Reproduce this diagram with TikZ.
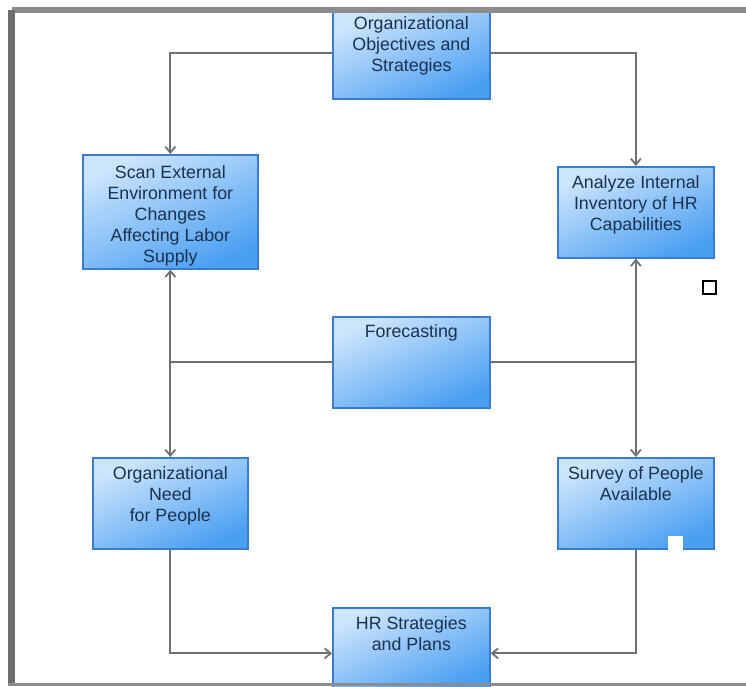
\documentclass[tikz,border=0pt]{standalone}
\usepackage{fontspec}
\setmainfont{Liberation Sans}
\usetikzlibrary{arrows.meta}
\definecolor{boxblue}{HTML}{3A7CD0}
\definecolor{boxlight}{HTML}{CDE5FC}
\definecolor{boxdark}{HTML}{4A9FF2}
\definecolor{txtcol}{HTML}{1B3150}
\definecolor{linegray}{HTML}{707070}
\definecolor{framegray}{HTML}{8C8C8C}
\definecolor{framedark}{HTML}{6E6E6E}
\newcommand{\btext}[4]{\parbox[c][#2pt][t]{#1pt}{\centering\rule{0pt}{#4pt}#3}}
\begin{document}
\begin{tikzpicture}[x=1pt,y=-1pt,
  hrbox/.style={draw=boxblue, line width=1.7pt, top color=boxlight, bottom color=boxdark,
    shading angle=25, inner sep=0pt, anchor=north west, text=txtcol,
    font=\fontsize{17.8}{21}\selectfont},
  conn/.style={draw=linegray, line width=1.8pt},
  arr/.style={conn, -{Straight Barb[length=6pt,width=10pt]}}]
\useasboundingbox (0,0) rectangle (746,686);
\fill[white] (0,0) rectangle (746,686);
% boxes
\node[hrbox] (obj)  at (332,11)  {\btext{157}{87}{Organizational\\Objectives and\\Strategies}{18}};
\node[hrbox] (scan) at (82,154)  {\btext{175}{114}{Scan External\\Environment for\\Changes\\Affecting Labor\\Supply}{24}};
\node[hrbox] (anal) at (557,166) {\btext{156}{91}{Analyze Internal\\Inventory of HR\\Capabilities}{22}};
\node[hrbox] (fore) at (332,316) {\btext{157}{91}{Forecasting}{21}};
\node[hrbox] (need) at (92,457)  {\btext{155}{91}{Organizational\\Need\\for People}{22}};
\node[hrbox] (surv) at (557,457) {\btext{156}{91}{Survey of People\\Available}{22}};
\node[hrbox] (hr)   at (332,607) {\btext{157}{80}{HR Strategies\\and Plans}{22}};
% notch in survey box
\fill[white] (668,536) rectangle (683,549.8);
% connectors
\draw[arr] ([yshift=2pt]obj.west) -| (scan.north);
\draw[arr] ([yshift=2pt]obj.east) -| (anal.north);
\coordinate (jl) at (scan.south |- fore.west);
\coordinate (jr) at (anal.south |- fore.east);
\draw[conn] (fore.west) -- (jl);
\draw[conn] (fore.east) -- (jr);
\draw[arr] (jl) -- (scan.south);
\draw[arr] (jl) -- (need.north);
\draw[arr] (jr) -- (anal.south);
\draw[arr] (jr) -- (surv.north);
\draw[arr] (need.south) |- ([yshift=-5.5pt]hr.west);
\draw[arr] (surv.south) |- ([yshift=-5.5pt]hr.east);
% small square
\draw[line width=1.3pt, black] (703,281) rectangle (716,294);
% frame
\fill[framegray] (12,7) rectangle (746,13);
\fill[framedark] (8,10) rectangle (15,686);
\fill[framegray] (8,683) rectangle (746,686);
\end{tikzpicture}
\end{document}
